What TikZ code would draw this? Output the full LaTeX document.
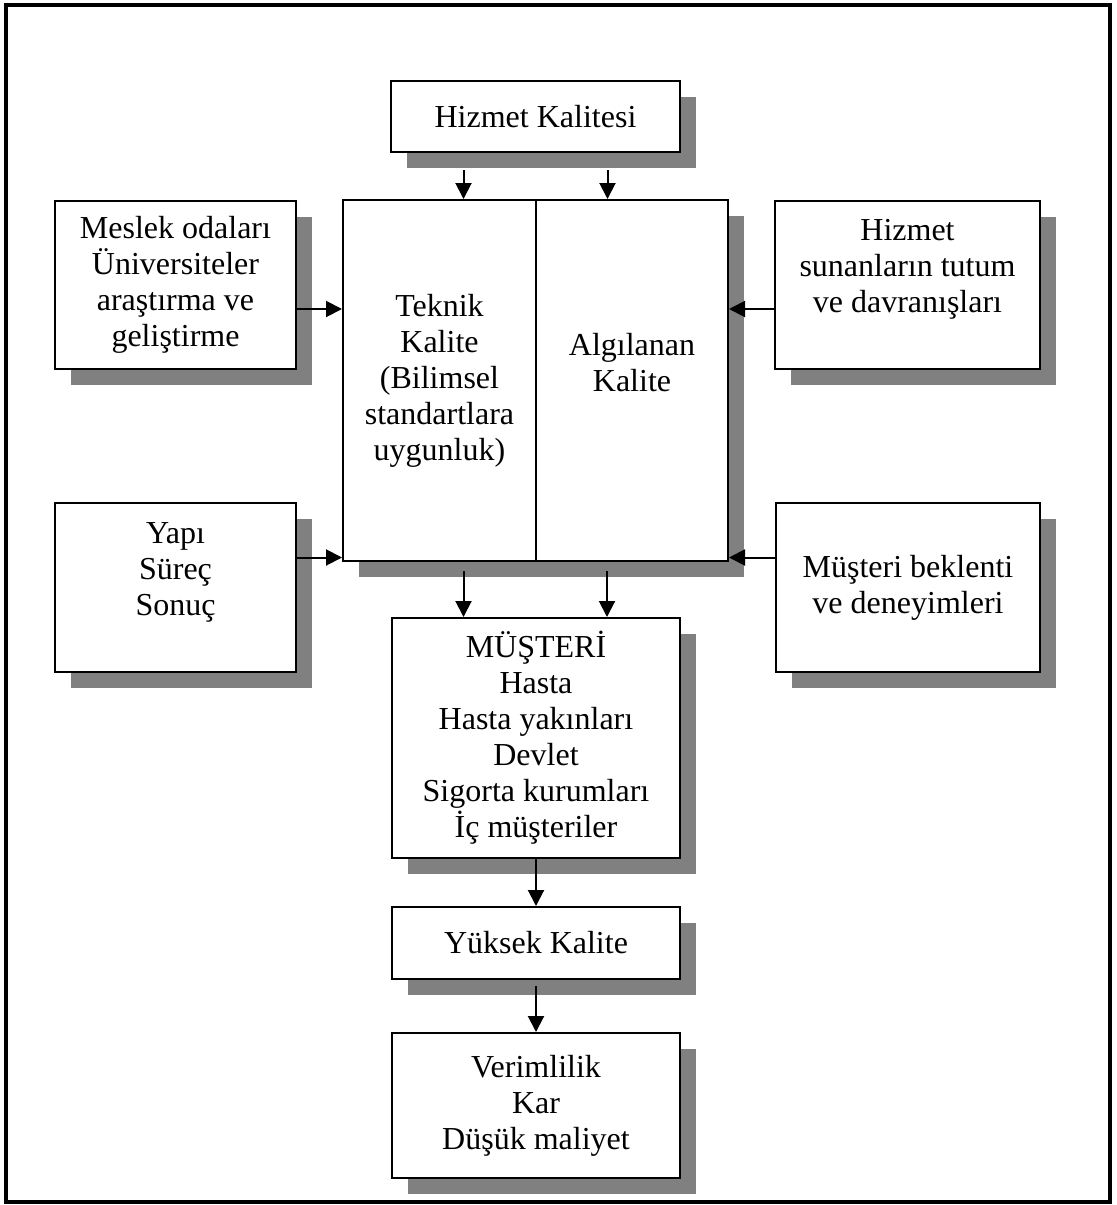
\documentclass[tikz,border=0pt]{standalone}
\usepackage{fontspec}
\setmainfont{Liberation Serif}
\usetikzlibrary{arrows.meta,shadows}
\definecolor{golge}{RGB}{128,128,128}
\tikzset{
  kutu/.style={draw,line width=1pt,fill=white,align=center,inner sep=2pt,
    font=\fontsize{16}{18}\selectfont,
    drop shadow={shadow xshift=8pt,shadow yshift=-8pt,fill=golge,opacity=1}},
  ok/.style={-{Triangle[width=8pt,length=8pt]},line width=1pt}
}
\begin{document}
\begin{tikzpicture}[x=0.5pt,y=-0.5pt,line join=miter]
  \useasboundingbox (0,0) rectangle (1116,1205);
  % Outer frame
  \draw[line width=2pt] (6,5) rectangle (1110,1202);

  % Top box
  \node[kutu,minimum width=144.5pt,minimum height=35.5pt] (kalite) at (535.5,116.5) {Hizmet Kalitesi};

  % Central box, two halves
  \node[kutu,minimum width=96.5pt,minimum height=180.5pt] (teknik) at (439.5,380.5)
    {Teknik\\Kalite\\(Bilimsel\\standartlara\\uygunluk)};
  \node[kutu,minimum width=96pt,minimum height=180.5pt,text depth=18pt] (algi) at (632,380.5)
    {Algılanan\\Kalite};

  % Side boxes
  \node[kutu,minimum width=120.5pt,minimum height=84pt] (meslek) at (175.5,285)
    {Meslek odaları\\Üniversiteler\\araştırma ve\\geliştirme};
  \node[kutu,minimum width=132.5pt,minimum height=84pt,text depth=19pt] (sunan) at (907.5,285)
    {Hizmet\\sunanların tutum\\ve davranışları};
  \node[kutu,minimum width=120.5pt,minimum height=84.5pt,text depth=18pt] (yapi) at (175.5,587.5)
    {Yapı\\Süreç\\Sonuç};
  \node[kutu,minimum width=132pt,minimum height=84.5pt] (beklenti) at (908,587.5)
    {Müşteri beklenti\\ve deneyimleri};

  % Lower chain
  \node[kutu,minimum width=144pt,minimum height=120pt] (musteri) at (536,738)
    {MÜŞTERİ\\Hasta\\Hasta yakınları\\Devlet\\Sigorta kurumları\\İç müşteriler};
  \node[kutu,minimum width=144pt,minimum height=36pt] (yuksek) at (536,943) {Yüksek Kalite};
  \node[kutu,minimum width=144pt,minimum height=72.5pt] (verim) at (536,1105.5)
    {Verimlilik\\Kar\\Düşük maliyet};

  % Arrows
  \draw[ok] ([xshift=-36pt,yshift=-8.5pt]kalite.south) -- ([xshift=-36pt]kalite.south |- teknik.north);
  \draw[ok] ([xshift=36pt,yshift=-8.5pt]kalite.south) -- ([xshift=36pt]kalite.south |- algi.north);
  \draw[ok] ([yshift=-12pt]meslek.east) -- ([yshift=-12pt]meslek.east -| teknik.west);
  \draw[ok] ([yshift=-12pt]sunan.west) -- ([yshift=-12pt]sunan.west -| algi.east);
  \draw[ok] ([yshift=15pt]yapi.east) -- ([yshift=15pt]yapi.east -| teknik.west);
  \draw[ok] ([yshift=15pt]beklenti.west) -- ([yshift=15pt]beklenti.west -| algi.east);
  \draw[ok] ([xshift=12pt,yshift=-4.5pt]teknik.south) -- ([xshift=12pt]teknik.south |- musteri.north);
  \draw[ok] ([xshift=-12.5pt,yshift=-4.5pt]algi.south) -- ([xshift=-12.5pt]algi.south |- musteri.north);
  \draw[ok] (musteri.south) -- (yuksek.north);
  \draw[ok] ([yshift=-3pt]yuksek.south) -- (verim.north);
\end{tikzpicture}
\end{document}
